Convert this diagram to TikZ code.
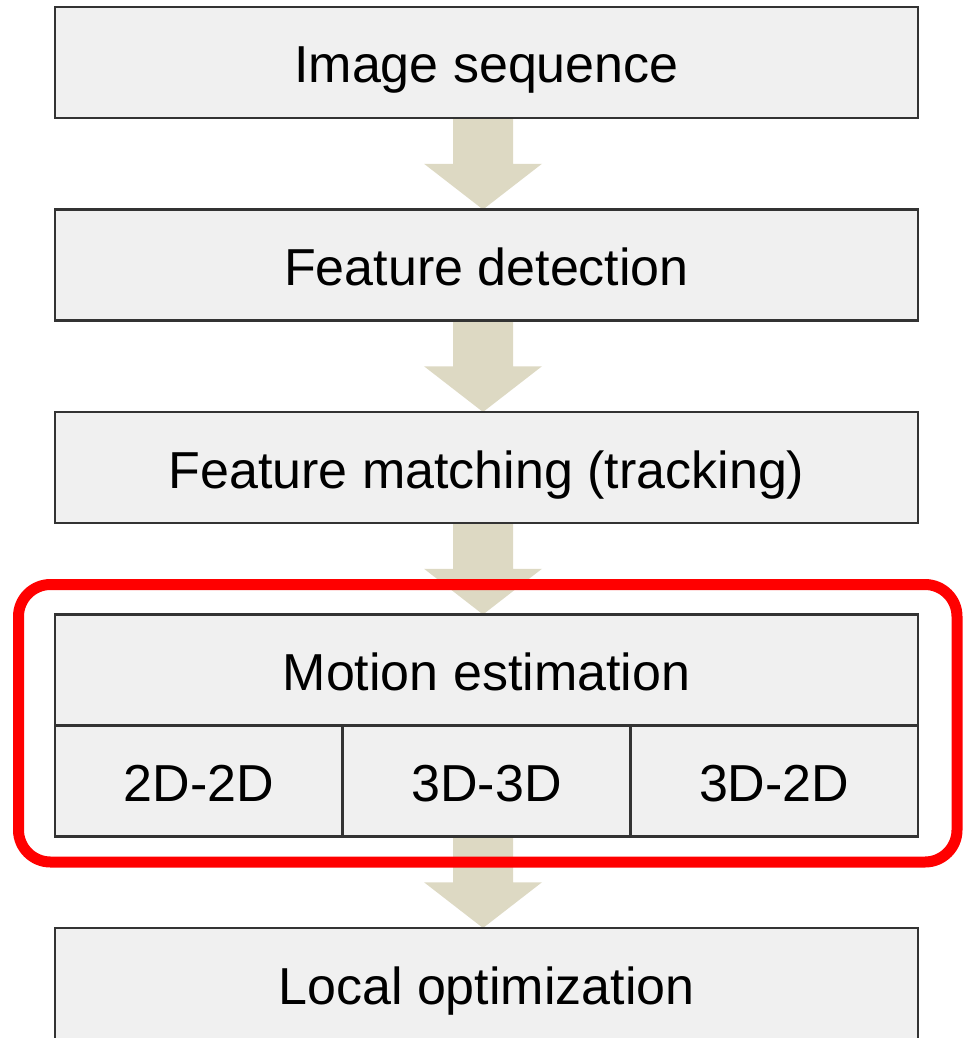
\documentclass[tikz,border=0pt]{standalone}
\usepackage{fontspec}
\setmainfont{Liberation Sans}
\usepackage{xcolor}
\usetikzlibrary{positioning, calc, backgrounds}
\definecolor{boxgray}{HTML}{F0F0F0}
\definecolor{flowtan}{HTML}{DDD9C3}

\begin{document}
\begin{tikzpicture}[
  node distance=91.5pt,
  box/.style={rectangle, draw=black!80, line width=2.5pt, fill=boxgray,
              minimum width=863pt, minimum height=111pt, inner sep=0pt, outer sep=0pt,
              text height=41pt, text depth=0pt,
              font=\fontsize{52}{62}\selectfont, anchor=north},
  cell/.style={box, minimum width=863pt/3},
  flow/.style={fill=flowtan},
  hilite/.style={draw=red, line width=11pt, rounded corners=32pt}
]

\useasboundingbox (0,0) rectangle (964pt,-1038pt);
\clip (0,0) rectangle (964pt,-1038pt);

% Pipeline boxes (top to bottom)
\node[box] (img) at (486.5pt,-7pt) {Image sequence};
\node[box, below=of img]   (det)    {Feature detection};
\node[box, below=of det]   (match)  {Feature matching (tracking)};
\node[box, below=of match] (motion) {Motion estimation};

% Motion estimation cases
\node[cell, anchor=north west] (dd) at (motion.south west) {2D-2D};
\node[cell, right=0pt of dd] (tt) {3D-3D};
\node[cell, right=0pt of tt] (td) {3D-2D};

\node[box, below=of tt] (local) {Local optimization};

% Block arrows (a little left of the box centres)
\begin{scope}[on background layer]
\foreach \s/\t in {img/det, det/match, match/motion, tt/local}{
  \coordinate (m) at ($(\s.south)!0.5!(\t.north)+(-3.5pt,0)$);
  \fill[flow] ([xshift=-33.5pt]\s.south) -- ([xshift=-30pt]m) -- ([xshift=-59pt]m)
    -- ([xshift=-3.5pt]\t.north) -- ([xshift=59pt]m) -- ([xshift=30pt]m) -- ([xshift=26.5pt]\s.south) -- cycle;
}
\end{scope}

% Highlight
\draw[hilite] ([xshift=-36.5pt, yshift=30pt]motion.north west) rectangle ([xshift=39pt, yshift=-25.5pt]td.south east);

\end{tikzpicture}
\end{document}
